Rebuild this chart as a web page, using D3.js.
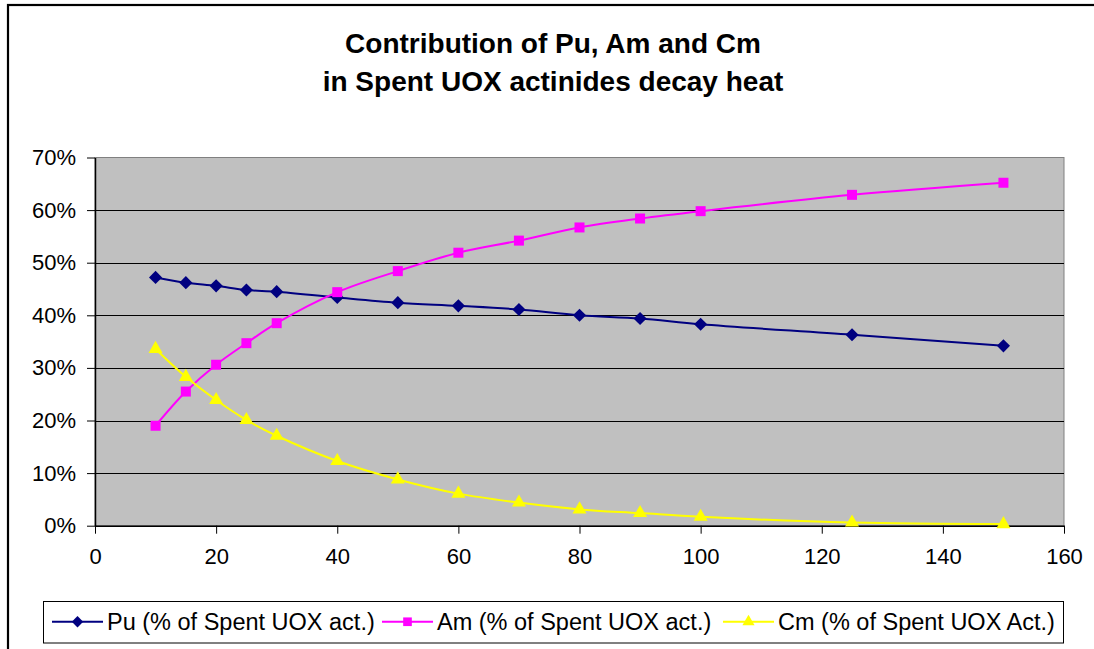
<!DOCTYPE html>
<html>
<head>
<meta charset="utf-8">
<script src="https://cdn.jsdelivr.net/npm/d3@7"></script>
<style>
  html, body { margin: 0; padding: 0; background: #fff; }
  svg { display: block; font-family: "Liberation Sans", Arial, sans-serif; }
</style>
</head>
<body>
<svg id="chart" width="1094" height="649"></svg>
<script>
// Cooling time (years) and each element's share of the spent UOX actinide decay heat
const years = [10, 15, 20, 25, 30, 40, 50, 60, 70, 80, 90, 100, 125, 150];
const puShare = [0.472, 0.462, 0.456, 0.448, 0.445, 0.434, 0.424, 0.418, 0.411, 0.400, 0.394, 0.383, 0.363, 0.342];
const amShare = [0.190, 0.255, 0.306, 0.347, 0.385, 0.444, 0.484, 0.519, 0.542, 0.567, 0.584, 0.598, 0.629, 0.652];
const cmShare = [0.336, 0.283, 0.239, 0.201, 0.171, 0.123, 0.088, 0.061, 0.044, 0.031, 0.024, 0.017, 0.006, 0.003];
const xTicks = [0, 20, 40, 60, 80, 100, 120, 140, 160];
const yTicks = [0, 0.1, 0.2, 0.3, 0.4, 0.5, 0.6, 0.7];
const titleLines = ["Contribution of Pu, Am and Cm", "in Spent UOX actinides decay heat"];
const seriesNames = ["Pu (% of Spent UOX act.)", "Am (% of Spent UOX act.)", "Cm (% of Spent UOX Act.)"];

const series = [
  { name: seriesNames[0], values: puShare, color: "#000080", width: 2, symbol: d3.symbolDiamond2, size: 110 },
  { name: seriesNames[1], values: amShare, color: "#FF00FF", width: 2, symbol: d3.symbolSquare, size: 100 },
  { name: seriesNames[2], values: cmShare, color: "#FFFF00", width: 2, symbol: d3.symbolTriangle, size: 85 }
];

const svg = d3.select("#chart");

// chart frame (runs off the right and bottom edges)
svg.append("rect")
  .attr("x", 8).attr("y", 5).attr("width", 1200).attr("height", 700)
  .attr("fill", "#fff").attr("stroke", "#000").attr("stroke-width", 2.2);

// title
const title = svg.append("text")
  .attr("text-anchor", "middle")
  .attr("font-weight", "bold")
  .attr("font-size", 28)
  .attr("fill", "#000");
titleLines.forEach((t, i) => {
  title.append("tspan").attr("x", 553).attr("y", 53 + i * 38).text(t);
});

const plot = { left: 95, right: 1064, top: 157.5, bottom: 525.7 };

const x = d3.scaleLinear().domain([0, 160]).range([plot.left, plot.right]);
const y = d3.scaleLinear().domain([0, 0.7]).range([plot.bottom, plot.top]);

// plot background
svg.append("rect")
  .attr("x", plot.left).attr("y", plot.top)
  .attr("width", plot.right - plot.left).attr("height", plot.bottom - plot.top)
  .attr("fill", "#C0C0C0").attr("stroke", "#808080").attr("stroke-width", 1);

// horizontal gridlines
svg.append("g")
  .selectAll("line")
  .data(yTicks.filter(v => v > 0 && v < 0.7))
  .join("line")
  .attr("x1", plot.left).attr("x2", plot.right)
  .attr("y1", d => Math.round(y(d)) + 0.5).attr("y2", d => Math.round(y(d)) + 0.5)
  .attr("stroke", "#000").attr("stroke-width", 1);

// axes
const yAxis = svg.append("g")
  .attr("transform", `translate(${plot.left},0)`)
  .call(d3.axisLeft(y).tickValues(yTicks).tickFormat(d3.format(".0%")).tickSize(8).tickSizeOuter(0).tickPadding(11));
const xAxis = svg.append("g")
  .attr("transform", `translate(0,${plot.bottom})`)
  .call(d3.axisBottom(x).tickValues(xTicks).tickSize(8).tickSizeOuter(0).tickPadding(9));

[yAxis, xAxis].forEach(g => {
  g.select(".domain").attr("stroke", "#000").attr("stroke-width", 1.5);
  g.selectAll(".tick line").attr("stroke", "#000").attr("stroke-width", 1);
  g.selectAll(".tick text")
    .attr("font-family", "'Liberation Sans', Arial, sans-serif")
    .attr("font-size", 22).attr("fill", "#000");
});
xAxis.selectAll(".tick text").attr("dy", "0.95em");

// series lines and markers
const line = d3.line()
  .x((d, i) => x(years[i]))
  .y(d => y(d))
  .curve(d3.curveCatmullRom.alpha(0.5));

series.forEach(s => {
  svg.append("path")
    .datum(s.values)
    .attr("d", line)
    .attr("fill", "none")
    .attr("stroke", s.color)
    .attr("stroke-width", s.width);
  svg.append("g")
    .selectAll("path")
    .data(s.values)
    .join("path")
    .attr("transform", (d, i) => `translate(${x(years[i])},${y(d)})`)
    .attr("d", d3.symbol(s.symbol, s.size))
    .attr("fill", s.color);
});

// legend
const legend = { x: 43, y: 601, w: 1020, h: 41.5 };
svg.append("rect")
  .attr("x", legend.x + 0.5).attr("y", legend.y + 0.5)
  .attr("width", legend.w).attr("height", legend.h)
  .attr("fill", "#fff").attr("stroke", "#000").attr("stroke-width", 1);

const itemX = [52, 382, 723];
series.forEach((s, i) => {
  const g = svg.append("g").attr("transform", `translate(${itemX[i]},${legend.y + legend.h / 2})`);
  g.append("line").attr("x1", 0).attr("x2", 51).attr("y1", 0).attr("y2", 0)
    .attr("stroke", s.color).attr("stroke-width", s.width);
  g.append("path").attr("transform", "translate(25.5,0)")
    .attr("d", d3.symbol(s.symbol, s.size * 0.75)).attr("fill", s.color);
  g.append("text").attr("x", 55).attr("y", 0).attr("dy", "0.35em")
    .attr("font-size", 23.5).attr("fill", "#000").text(s.name);
});
</script>
</body>
</html>
